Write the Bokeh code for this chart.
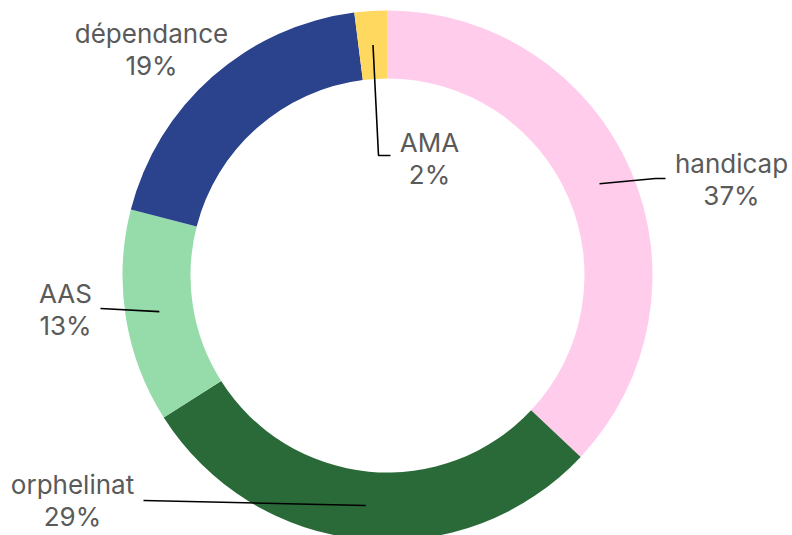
import math
from bokeh.plotting import figure
from bokeh.models import Range1d, ColumnDataSource
from bokeh.core.properties import value
from bokeh.embed import file_html
from bokeh.resources import INLINE

# ---- data ----
categories = ["handicap", "orphelinat", "AAS", "dépendance", "AMA"]
shares = [37, 29, 13, 19, 2]
colors = ["#FFCCEC", "#2A6A39", "#96DCAA", "#2B428C", "#FFD95F"]

# ---- layout (screen pixel coordinates) ----
CX, CY = 387, 275
R_IN, R_OUT = 197, 265
label_xy = {  # centre x, baseline of first line
    "handicap": (731, 163),
    "orphelinat": (72, 484),
    "AAS": (65, 293),
    "dépendance": (151, 33),
    "AMA": (429, 142),
}
leader_tail = {  # points after anchor
    "handicap": [(655, 178), (665, 178)],
    "orphelinat": [(143, 500)],
    "AAS": [(100, 308)],
    "dépendance": None,
    "AMA": [(378, 155), (390, 155)],
}
LINE_GAP = 32

W, H = 792, 535
p = figure(width=W, height=H, output_backend="svg", toolbar_location=None,
           x_range=Range1d(0, W), y_range=Range1d(-H, 0),
           min_border=0, match_aspect=False)
p.axis.visible = False
p.grid.visible = False
p.outline_line_color = None
p.background_fill_color = "white"
p.border_fill_color = "white"

total = float(sum(shares))
starts, ends, mids = [], [], []
cum = 0.0
for v in shares:
    a0 = math.pi / 2 - 2 * math.pi * cum / total
    a1 = math.pi / 2 - 2 * math.pi * (cum + v) / total
    starts.append(a0)
    ends.append(a1)
    mids.append((a0 + a1) / 2)
    cum += v

src = ColumnDataSource(dict(start=starts, end=ends, color=colors))
p.annular_wedge(x=CX, y=-CY, inner_radius=R_IN, outer_radius=R_OUT,
                start_angle="start", end_angle="end", direction="clock",
                fill_color="color", line_color=None, source=src)

r_mid = (R_IN + R_OUT) / 2
for cat, m in zip(categories, mids):
    tail = leader_tail[cat]
    if not tail:
        continue
    ax = CX + r_mid * math.cos(m)
    ay = CY - r_mid * math.sin(m)
    xs = [ax] + [t[0] for t in tail]
    ys = [-ay] + [-t[1] for t in tail]
    p.line(xs, ys, line_color="black", line_width=1.6)

tx, ty1, ty2, t1, t2 = [], [], [], [], []
for cat, v in zip(categories, shares):
    x, y = label_xy[cat]
    tx.append(x)
    ty1.append(-y)
    ty2.append(-(y + LINE_GAP))
    t1.append(cat)
    t2.append(f"{v}%")

for ys, ts in ((ty1, t1), (ty2, t2)):
    p.text(x=tx, y=ys, text=ts, text_font=value("Inter"), text_font_size="26px",
           text_color="#5a5a5a", text_align="center", text_baseline="alphabetic")

open("out.html", "w").write(file_html(p, INLINE))
